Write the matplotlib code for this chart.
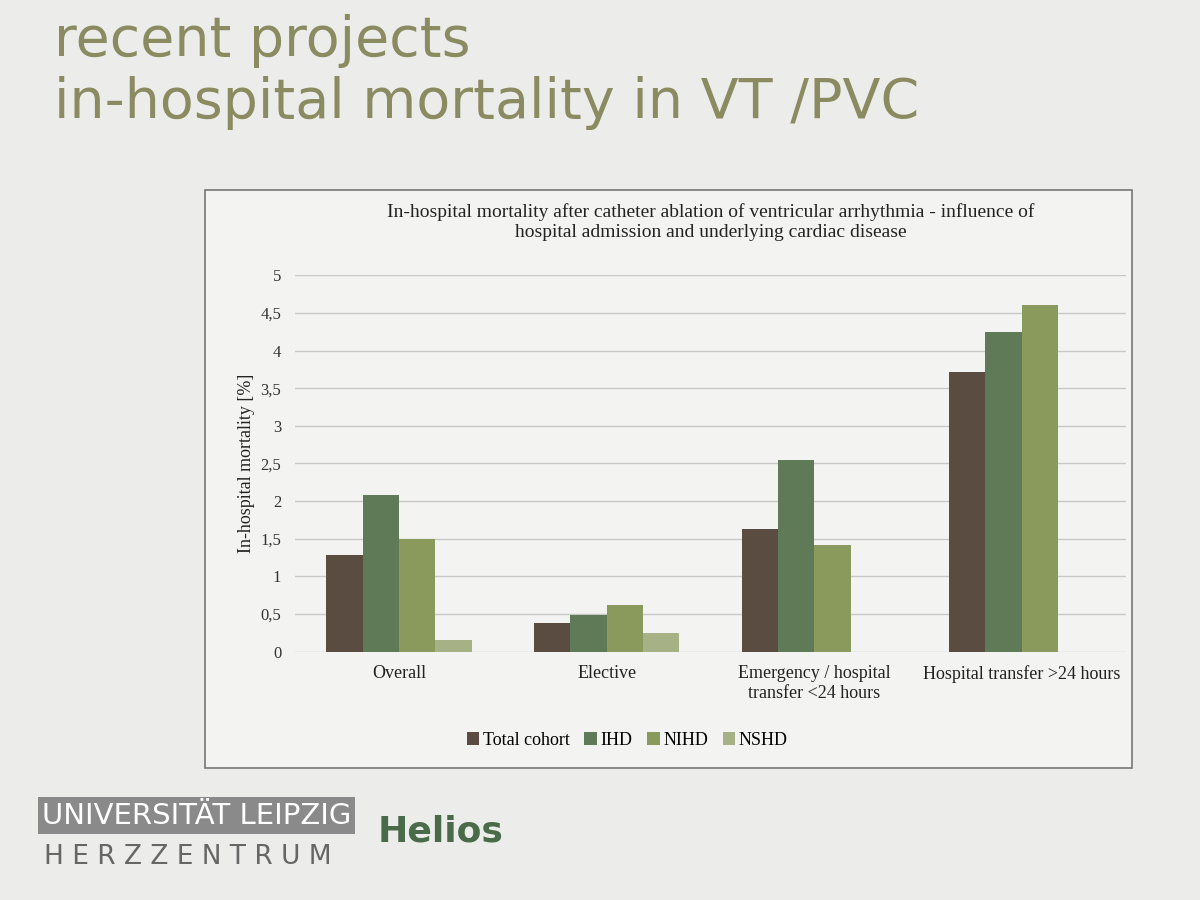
import matplotlib.pyplot as plt
import numpy as np
from matplotlib.patches import Rectangle

categories = ['Overall', 'Elective', 'Emergency / hospital\ntransfer <24 hours', 'Hospital transfer >24 hours']
series_names = ['Total cohort', 'IHD', 'NIHD', 'NSHD']
total_cohort = [1.28, 0.38, 1.63, 3.72]
ihd = [2.08, 0.48, 2.55, 4.25]
nihd = [1.50, 0.62, 1.42, 4.60]
nshd = [0.15, 0.25, 0.0, 0.0]
colors = ['#5b4c42', '#5f7a57', '#899a5c', '#a6b286']

fig = plt.figure(figsize=(12, 9), dpi=100)
fig.patch.set_facecolor('#ecedeb')

# slide title
fig.text(0.045, 0.955, 'recent projects', fontsize=40, color='#8b8b62', va='center')
fig.text(0.045, 0.885, 'in-hospital mortality in VT /PVC', fontsize=40, color='#8b8b62', va='center')

# chart box
fig.patches.append(Rectangle((0.171, 0.147), 0.772, 0.642, transform=fig.transFigure,
                             facecolor='#f3f3f1', edgecolor='#777777', lw=1.2, zorder=-1))

ax = fig.add_axes([0.246, 0.276, 0.692, 0.418])
ax.set_zorder(2)
ax.set_facecolor('#f3f3f1')
x = np.arange(len(categories))
w = 0.175
for i, (vals, name) in enumerate(zip([total_cohort, ihd, nihd, nshd], series_names)):
    ax.bar(x + (i - 1.5) * w, vals, w, color=colors[i], label=name, zorder=3)

ax.set_ylim(0, 5)
ax.set_xlim(-0.5, 3.5)
ax.set_yticks(np.arange(0, 5.01, 0.5))
ax.set_yticklabels([('%g' % v).replace('.', ',') for v in np.arange(0, 5.01, 0.5)],
                   family='Liberation Serif', fontsize=12, color='#333333')
ax.set_xticks(x)
ax.set_xticklabels(categories, family='Liberation Serif', fontsize=13, color='#222222')
ax.tick_params(length=0, pad=10)
ax.grid(axis='y', color='#c8c8c8', lw=1, zorder=0)
for s in ax.spines.values():
    s.set_visible(False)
ax.set_ylabel('In-hospital mortality [%]', family='Liberation Serif', fontsize=13, color='#222222')

ax.set_title('In-hospital mortality after catheter ablation of ventricular arrhythmia - influence of\n'
             'hospital admission and underlying cardiac disease',
             family='Liberation Serif', fontsize=14, color='#222222', pad=28)

ax.legend(loc='upper center', bbox_to_anchor=(0.4, -0.17), ncol=4, frameon=False,
          prop={'family': 'Liberation Serif', 'size': 13}, handlelength=0.7,
          handletextpad=0.2, columnspacing=0.8)

# logos as text
fig.text(0.035, 0.085, 'UNIVERSITÄT LEIPZIG', fontsize=21, color='white',
         bbox=dict(facecolor='#8a8a8a', edgecolor='none', pad=3))
fig.text(0.037, 0.04, 'H E R Z Z E N T R U M', fontsize=19, color='#666666')
fig.text(0.315, 0.065, 'Helios', fontsize=26, color='#4a6b4a', weight='bold')

fig.savefig('out.png', dpi=100, facecolor=fig.get_facecolor())
